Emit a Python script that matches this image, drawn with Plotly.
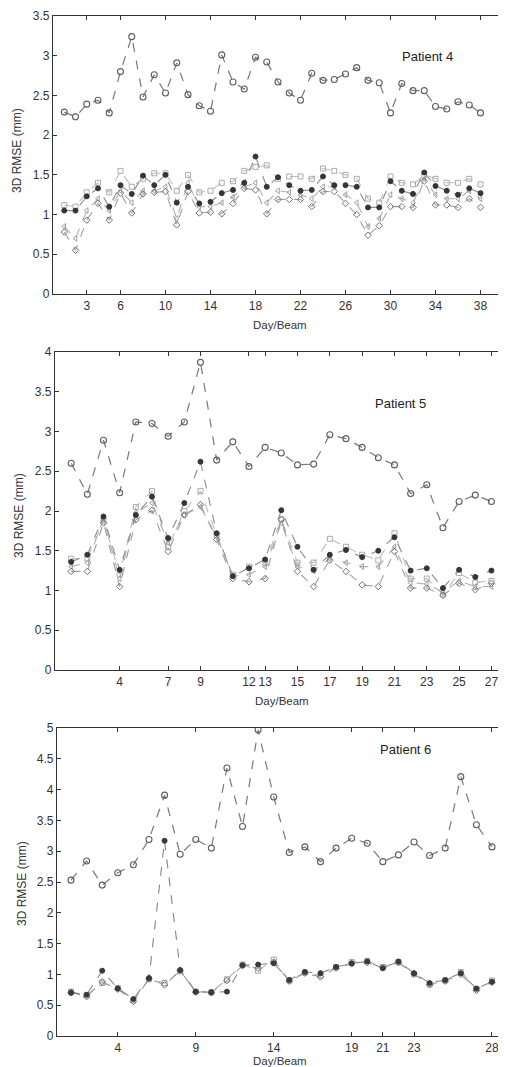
import plotly.graph_objects as go

# ---------------- Patient 4 ----------------
p4_days = list(range(1, 39))
p4_top = [2.29, 2.23, 2.39, 2.44, 2.28, 2.80, 3.24, 2.48, 2.76, 2.53, 2.91, 2.51, 2.37, 2.30,
          3.01, 2.67, 2.58, 2.98, 2.92, 2.67, 2.53, 2.44, 2.78, 2.69, 2.70, 2.77, 2.85, 2.69,
          2.66, 2.28, 2.65, 2.56, 2.56, 2.36, 2.33, 2.42, 2.38, 2.28]
p4_star = [1.05, 1.05, 1.23, 1.33, 1.10, 1.37, 1.26, 1.49, 1.37, 1.50, 1.15, 1.35, 1.14, 1.16,
           1.27, 1.31, 1.40, 1.73, 1.35, 1.47, 1.37, 1.30, 1.31, 1.48, 1.37, 1.37, 1.35, 1.09,
           1.09, 1.42, 1.30, 1.26, 1.53, 1.36, 1.30, 1.25, 1.33, 1.27]
p4_square = [1.12, 1.10, 1.28, 1.40, 1.28, 1.55, 1.35, 1.45, 1.52, 1.52, 1.30, 1.50, 1.28, 1.30,
             1.40, 1.42, 1.55, 1.60, 1.62, 1.45, 1.48, 1.48, 1.45, 1.58, 1.55, 1.50, 1.45, 1.20,
             1.15, 1.48, 1.40, 1.38, 1.50, 1.45, 1.40, 1.40, 1.45, 1.38]
p4_tri = [0.85, 0.70, 1.05, 1.20, 1.05, 1.30, 1.15, 1.30, 1.30, 1.35, 0.95, 1.40, 1.10, 1.10,
          1.15, 1.22, 1.35, 1.40, 1.15, 1.30, 1.28, 1.25, 1.20, 1.35, 1.35, 1.25, 1.15, 0.85,
          0.95, 1.25, 1.20, 1.15, 1.45, 1.25, 1.20, 1.20, 1.30, 1.20]
p4_diamond = [0.78, 0.55, 0.93, 1.14, 0.93, 1.27, 1.02, 1.26, 1.28, 1.29, 0.87, 1.29, 1.02, 1.03,
              1.01, 1.14, 1.33, 1.31, 1.01, 1.19, 1.19, 1.19, 1.10, 1.29, 1.29, 1.14, 1.00, 0.74,
              0.86, 1.10, 1.10, 1.09, 1.42, 1.12, 1.12, 1.09, 1.20, 1.09]
p4_ticks = [3, 6, 10, 14, 18, 22, 26, 30, 34, 38]

# ---------------- Patient 5 ----------------
p5_days = list(range(1, 28))
p5_top = [2.60, 2.21, 2.89, 2.23, 3.12, 3.10, 2.94, 3.12, 3.87, 2.64, 2.87, 2.56, 2.80, 2.73,
          2.58, 2.59, 2.96, 2.91, 2.80, 2.67, 2.58, 2.22, 2.33, 1.79, 2.12, 2.20, 2.12]
p5_star = [1.36, 1.45, 1.93, 1.26, 1.95, 2.18, 1.66, 2.10, 2.62, 1.72, 1.18, 1.28, 1.39, 2.01,
           1.55, 1.26, 1.45, 1.51, 1.42, 1.50, 1.67, 1.25, 1.28, 1.03, 1.26, 1.17, 1.25]
p5_square = [1.40, 1.40, 1.88, 1.20, 2.05, 2.25, 1.55, 2.00, 2.25, 1.70, 1.20, 1.30, 1.35, 1.90,
             1.35, 1.35, 1.65, 1.55, 1.45, 1.38, 1.72, 1.15, 1.15, 0.95, 1.22, 1.10, 1.12]
p5_tri = [1.30, 1.35, 1.90, 1.15, 1.98, 2.10, 1.60, 1.95, 2.05, 1.68, 1.18, 1.20, 1.30, 1.85,
          1.30, 1.25, 1.40, 1.35, 1.30, 1.30, 1.55, 1.10, 1.08, 0.98, 1.12, 1.05, 1.05]
p5_diamond = [1.24, 1.24, 1.85, 1.05, 1.89, 2.01, 1.49, 1.95, 2.08, 1.64, 1.15, 1.11, 1.15, 1.89,
              1.24, 1.05, 1.38, 1.24, 1.07, 1.05, 1.49, 1.03, 1.03, 0.94, 1.09, 1.01, 1.09]
p5_ticks = [4, 7, 9, 12, 13, 15, 17, 19, 21, 23, 25, 27]

# ---------------- Patient 6 ----------------
p6_days = list(range(1, 29))
p6_top = [2.53, 2.84, 2.45, 2.65, 2.78, 3.19, 3.91, 2.95, 3.19, 3.05, 4.35, 3.40, 4.97, 3.88,
          2.98, 3.07, 2.83, 3.05, 3.21, 3.13, 2.83, 2.94, 3.15, 2.93, 3.05, 4.21, 3.43, 3.07]
p6_star = [0.70, 0.67, 1.06, 0.77, 0.60, 0.94, 3.17, 1.07, 0.72, 0.71, 0.72, 1.15, 1.16, 1.18,
           0.91, 1.04, 1.02, 1.12, 1.18, 1.21, 1.10, 1.21, 1.02, 0.86, 0.91, 1.02, 0.77, 0.88]
p6_square = [0.72, 0.66, 0.86, 0.78, 0.58, 0.92, 0.86, 1.05, 0.72, 0.71, 0.92, 1.16, 1.06, 1.24,
             0.90, 1.03, 0.98, 1.12, 1.20, 1.22, 1.12, 1.20, 1.00, 0.84, 0.90, 1.04, 0.76, 0.90]
p6_diamond = [0.71, 0.64, 0.88, 0.76, 0.56, 0.93, 0.83, 1.06, 0.71, 0.70, 0.90, 1.14, 1.10, 1.20,
              0.89, 1.02, 0.96, 1.10, 1.17, 1.19, 1.11, 1.19, 1.01, 0.83, 0.89, 1.00, 0.74, 0.87]
p6_ticks = [4, 9, 14, 19, 21, 23, 28]

# page body has an 8px margin: size the figure to fill the rest of the window
OFF = 8
W, H = 506 - OFF, 1067 - OFF
fig = go.Figure()

panels = [
    dict(days=p4_days, top=p4_top, lows=[p4_square, p4_tri, p4_diamond, p4_star], ticks=p4_ticks,
         xpx=(53, 503), ypx=(16, 294), xr=[0, 40], ymax=3.5, name="Patient 4", lab=(427, 56),
         ytitle=(17, 151), xtitle=(280, 325)),
    dict(days=p5_days, top=p5_top, lows=[p5_square, p5_tri, p5_diamond, p5_star], ticks=p5_ticks,
         xpx=(55, 506), ypx=(352, 670), xr=[0, 27.9], ymax=4, name="Patient 5", lab=(400, 404),
         ytitle=(19, 516), xtitle=(282, 701)),
    dict(days=p6_days, top=p6_top, lows=[p6_square, p6_diamond, p6_star], ticks=p6_ticks,
         xpx=(57, 506), ypx=(728, 1036), xr=[0.1, 28.9], ymax=5, name="Patient 6", lab=(405, 749),
         ytitle=(22, 884), xtitle=(280, 1061)),
]

low_styles = {
    4: [("square-open", "#ababab", "#bdbdbd"), ("triangle-left-open", "#a0a0a0", "#b0b0b0"),
        ("diamond-open", "#707070", "#a0a0a0"), ("circle", "#353535", "#8c8c8c")],
    3: [("square-open", "#a0a0a0", "#adadad"), ("diamond-open", "#707070", "#9c9c9c"),
        ("circle", "#3a3a3a", "#858585")],
}


def fx(px):
    return min(max((px - OFF) / W, 0.0), 1.0)


def fy(py):
    return min(max(1 - (py - OFF) / H, 0.0), 1.0)


font = "Liberation Sans, Arial, sans-serif"
annotations = []
for i, p in enumerate(panels, start=1):
    xa = "x" if i == 1 else f"x{i}"
    ya = "y" if i == 1 else f"y{i}"
    styles = low_styles[len(p["lows"])]
    for vals, (sym, mcol, lcol) in zip(p["lows"], styles):
        fig.add_trace(go.Scatter(
            x=p["days"], y=vals, mode="lines+markers", xaxis=xa, yaxis=ya,
            line=dict(color=lcol, width=1.1, dash="dash"),
            marker=dict(symbol=sym, size=5, color=mcol, line=dict(color=mcol, width=1)),
            showlegend=False))
    fig.add_trace(go.Scatter(
        x=p["days"], y=p["top"], mode="lines+markers", xaxis=xa, yaxis=ya,
        line=dict(color="#787878", width=1.2, dash="dash"),
        marker=dict(symbol="circle-open", size=6, color="#5e5e5e", line=dict(width=1.1)),
        showlegend=False))

    x0, x1 = p["xpx"]
    y0, y1 = p["ypx"]
    xkey = "xaxis" if i == 1 else f"xaxis{i}"
    ykey = "yaxis" if i == 1 else f"yaxis{i}"
    yt = [k * 0.5 for k in range(int(p["ymax"] * 2) + 1)]
    fig.update_layout({
        xkey: dict(domain=[fx(x0), fx(x1)], range=p["xr"], anchor=ya, automargin=False,
                   tickvals=p["ticks"], ticktext=[str(t) for t in p["ticks"]],
                   ticks="inside", ticklen=4, tickcolor="#333", showgrid=False, zeroline=False,
                   showline=True, linecolor="#333", linewidth=1.2, mirror="ticks",
                   tickfont=dict(family=font, size=12, color="#333")),
        ykey: dict(domain=[fy(y1), fy(y0)], range=[0, p["ymax"]], anchor=xa, automargin=False,
                   tickvals=yt, ticktext=[f"{v:g}" for v in yt],
                   ticks="inside", ticklen=4, tickcolor="#333", showgrid=False, zeroline=False,
                   showline=True, linecolor="#333", linewidth=1.2, mirror="ticks",
                   tickfont=dict(family=font, size=12, color="#333")),
    })
    common = dict(xref="paper", yref="paper", showarrow=False, xanchor="center", yanchor="middle")
    annotations.append(dict(text=p["name"], x=fx(p["lab"][0]), y=fy(p["lab"][1]),
                            font=dict(family=font, size=13, color="#222"), **common))
    annotations.append(dict(text="3D RMSE (mm)", x=fx(p["ytitle"][0]), y=fy(p["ytitle"][1]),
                            textangle=-90, font=dict(family=font, size=12, color="#333"), **common))
    annotations.append(dict(text="Day/Beam", x=fx(p["xtitle"][0]), y=fy(p["xtitle"][1]),
                            font=dict(family=font, size=11.5, color="#333"), **common))

fig.update_layout(width=W, height=H, margin=dict(l=0, r=0, t=0, b=0, autoexpand=False),
                  paper_bgcolor="white", plot_bgcolor="white", annotations=annotations)
fig.write_html("out.html")
